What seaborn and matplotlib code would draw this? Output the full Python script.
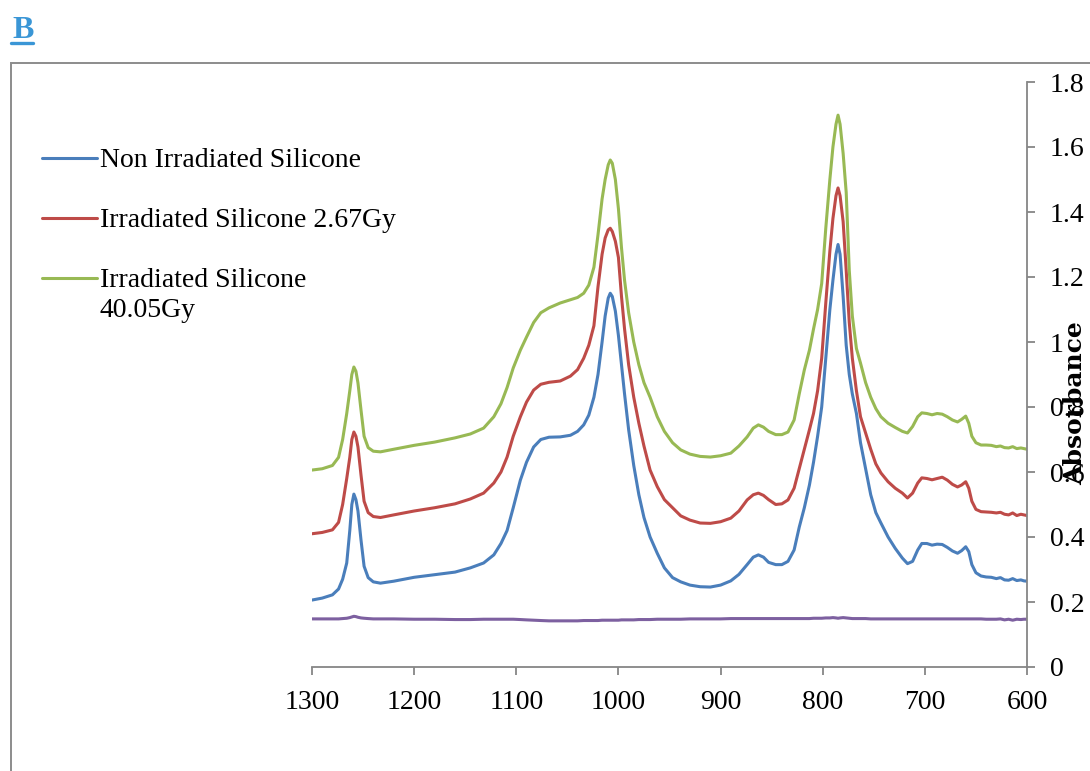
import numpy as np
import pandas as pd
import matplotlib
matplotlib.use("Agg")
import matplotlib.pyplot as plt
from matplotlib.lines import Line2D
from matplotlib.patches import Rectangle
from matplotlib.ticker import FuncFormatter
import seaborn as sns

# FTIR spectra (absorbance vs wavenumber, cm-1)
wavenumber = [
    1300, 1290, 1280, 1274, 1270, 1266, 1263, 1261, 1259, 1257, 1255, 1252, 1249, 1245,
    1240, 1233, 1220, 1200, 1180, 1160, 1145, 1132, 1122, 1115, 1109, 1103, 1096, 1090,
    1083, 1076, 1068, 1057, 1047, 1040, 1034, 1029, 1024, 1020, 1016, 1013, 1010, 1008,
    1006, 1003, 1000, 997, 994, 990, 985, 980, 975, 969, 962, 955, 947, 939, 930, 920,
    910, 900, 890, 882, 874, 868, 863, 858, 853, 846, 840, 834, 828, 823, 818, 813, 809,
    805, 801, 797, 793, 790, 787, 785, 783, 780, 777, 774, 771, 767, 763, 758, 753, 748,
    743, 736, 729, 722, 717, 712, 707, 703, 698, 693, 688, 683, 678, 673, 668, 664, 660,
    657, 654, 650, 645, 640, 635, 630, 626, 622, 618, 614, 610, 606, 603, 600,
]

non_irradiated = [
    0.206, 0.212, 0.222, 0.240, 0.270, 0.320, 0.420, 0.500, 0.532, 0.515, 0.480, 0.390, 0.310, 0.275,
    0.262, 0.258, 0.264, 0.276, 0.284, 0.292, 0.305, 0.320, 0.345, 0.380, 0.420, 0.490, 0.575, 0.630,
    0.677, 0.700, 0.707, 0.708, 0.713, 0.725, 0.745, 0.775, 0.830, 0.900, 1.000, 1.080, 1.135, 1.150,
    1.140, 1.095, 1.020, 0.930, 0.840, 0.730, 0.620, 0.530, 0.460, 0.400, 0.350, 0.305, 0.275, 0.262, 0.252, 0.247,
    0.246, 0.252, 0.265, 0.285, 0.315, 0.338, 0.345, 0.338, 0.322, 0.315, 0.315, 0.325, 0.360, 0.430, 0.490, 0.560, 0.630,
    0.710, 0.800, 0.950, 1.100, 1.190, 1.270, 1.300, 1.270, 1.140, 0.990, 0.900, 0.840, 0.780, 0.690, 0.610, 0.530, 0.475,
    0.443, 0.400, 0.365, 0.335, 0.318, 0.325, 0.360, 0.380, 0.380, 0.375, 0.378, 0.377, 0.368, 0.357, 0.350, 0.358, 0.370,
    0.355, 0.315, 0.290, 0.280, 0.277, 0.276, 0.272, 0.275, 0.268, 0.267, 0.272, 0.266, 0.268, 0.265, 0.264,
]

irradiated_267 = [
    0.410, 0.414, 0.422, 0.445, 0.500, 0.580, 0.645, 0.700, 0.723, 0.710, 0.677, 0.590, 0.510, 0.475,
    0.463, 0.460, 0.468, 0.480, 0.490, 0.502, 0.517, 0.535, 0.566, 0.600, 0.646, 0.710, 0.770, 0.815,
    0.852, 0.870, 0.876, 0.880, 0.895, 0.915, 0.950, 0.990, 1.050, 1.170, 1.270, 1.320, 1.345, 1.350,
    1.340, 1.310, 1.260, 1.140, 1.040, 0.930, 0.830, 0.750, 0.680, 0.606, 0.555, 0.515, 0.490, 0.465, 0.452, 0.443,
    0.442, 0.447, 0.458, 0.480, 0.514, 0.530, 0.535, 0.528, 0.515, 0.500, 0.502, 0.514, 0.550, 0.610, 0.670, 0.730, 0.780,
    0.850, 0.950, 1.120, 1.280, 1.380, 1.450, 1.474, 1.450, 1.370, 1.220, 1.060, 0.950, 0.850, 0.770, 0.720, 0.670, 0.625,
    0.597, 0.570, 0.550, 0.535, 0.520, 0.535, 0.566, 0.582, 0.580, 0.576, 0.580, 0.584, 0.575, 0.562, 0.554, 0.560, 0.570,
    0.550, 0.510, 0.485, 0.478, 0.477, 0.476, 0.474, 0.476, 0.470, 0.468, 0.474, 0.466, 0.470, 0.468, 0.466,
]

irradiated_4005 = [
    0.606, 0.610, 0.620, 0.645, 0.700, 0.780, 0.850, 0.900, 0.923, 0.910, 0.874, 0.790, 0.710, 0.675,
    0.664, 0.662, 0.670, 0.682, 0.692, 0.705, 0.717, 0.735, 0.770, 0.810, 0.860, 0.920, 0.975, 1.015,
    1.060, 1.090, 1.105, 1.120, 1.130, 1.137, 1.150, 1.175, 1.230, 1.330, 1.440, 1.500, 1.545, 1.560,
    1.550, 1.500, 1.410, 1.290, 1.190, 1.090, 1.000, 0.930, 0.875, 0.830, 0.770, 0.725, 0.690, 0.668, 0.655, 0.648,
    0.646, 0.650, 0.658, 0.680, 0.708, 0.735, 0.745, 0.738, 0.725, 0.715, 0.715, 0.723, 0.760, 0.840, 0.914, 0.975, 1.040,
    1.100, 1.180, 1.350, 1.500, 1.600, 1.670, 1.698, 1.670, 1.580, 1.460, 1.220, 1.080, 0.980, 0.935, 0.875, 0.830, 0.795,
    0.770, 0.750, 0.737, 0.725, 0.720, 0.740, 0.770, 0.782, 0.780, 0.776, 0.780, 0.778, 0.770, 0.760, 0.754, 0.762, 0.772,
    0.750, 0.710, 0.690, 0.683, 0.683, 0.682, 0.678, 0.680, 0.675, 0.674, 0.678, 0.672, 0.674, 0.672, 0.670,
]

background = [
    0.148, 0.148, 0.148, 0.148, 0.149, 0.150, 0.152, 0.154, 0.156, 0.155, 0.153, 0.151, 0.150, 0.149,
    0.148, 0.148, 0.148, 0.147, 0.147, 0.146, 0.146, 0.147, 0.147, 0.147, 0.147, 0.147, 0.146, 0.145,
    0.144, 0.143, 0.142, 0.142, 0.142, 0.142, 0.143, 0.143, 0.143, 0.143, 0.144, 0.144, 0.144, 0.144,
    0.144, 0.144, 0.144, 0.145, 0.145, 0.145, 0.145, 0.146, 0.146, 0.146, 0.147, 0.147, 0.147, 0.147, 0.148, 0.148,
    0.148, 0.148, 0.149, 0.149, 0.149, 0.149, 0.149, 0.149, 0.149, 0.149, 0.149, 0.149, 0.149, 0.149, 0.149, 0.149, 0.150,
    0.150, 0.150, 0.151, 0.151, 0.152, 0.151, 0.150, 0.151, 0.152, 0.151, 0.150, 0.149, 0.149, 0.149, 0.149, 0.148, 0.148,
    0.148, 0.148, 0.148, 0.148, 0.148, 0.148, 0.148, 0.148, 0.148, 0.148, 0.148, 0.148, 0.148, 0.148, 0.148, 0.148, 0.148,
    0.148, 0.148, 0.148, 0.148, 0.147, 0.147, 0.147, 0.148, 0.145, 0.147, 0.144, 0.147, 0.146, 0.147, 0.147,
]

series_names = ["Non Irradiated Silicone", "Irradiated Silicone 2.67Gy", "Irradiated Silicone\n40.05Gy"]
series_colors = ["#4A7EBB", "#BE4B48", "#98B954"]
background_color = "#7D60A0"
x_ticks = [1300, 1200, 1100, 1000, 900, 800, 700, 600]
y_ticks = [0, 0.2, 0.4, 0.6, 0.8, 1.0, 1.2, 1.4, 1.6, 1.8]

spectra = pd.DataFrame({
    "wavenumber": wavenumber * 3,
    "absorbance": non_irradiated + irradiated_267 + irradiated_4005,
    "sample": [series_names[0]] * len(wavenumber)
    + [series_names[1]] * len(wavenumber)
    + [series_names[2]] * len(wavenumber),
})
baseline = pd.DataFrame({"wavenumber": wavenumber, "absorbance": background})

sns.set_style("white")
plt.rcParams["font.family"] = ["Liberation Serif", "DejaVu Serif"]
plt.rcParams["text.color"] = "black"

W, H = 1090, 771
fig = plt.figure(figsize=(W / 100, H / 100), dpi=100)
ax = fig.add_axes([312 / W, (H - 667) / H, (1027 - 312) / W, (667 - 82) / H])

grey = "#868686"

sns.lineplot(data=baseline, x="wavenumber", y="absorbance", color=background_color,
             linewidth=2.2, sort=False, estimator=None, legend=False, ax=ax)
sns.lineplot(data=spectra, x="wavenumber", y="absorbance", hue="sample",
             hue_order=series_names, palette=series_colors, linewidth=2.2,
             sort=False, estimator=None, legend=False, ax=ax)

ax.set_xlim(1300, 600)
ax.set_ylim(0, 1.8)
ax.set_xticks(x_ticks)
ax.set_yticks(y_ticks)
ax.yaxis.set_major_formatter(FuncFormatter(lambda v, p: f"{v:g}"))
ax.yaxis.tick_right()
ax.set_xlabel("")
ax.set_ylabel("")

for side in ["left", "top"]:
    ax.spines[side].set_visible(False)
for side in ["right", "bottom"]:
    ax.spines[side].set_visible(True)
    ax.spines[side].set_color(grey)
    ax.spines[side].set_linewidth(1.3)
ax.tick_params(axis="both", which="major", direction="out", length=5.5, width=1.3,
               color=grey, labelsize=20, labelcolor="black")
ax.tick_params(axis="y", pad=11, left=False, right=True)
ax.tick_params(axis="x", pad=11, bottom=True)

# Legend: line key at the height of each label's first line
legend_rows = [158, 218, 278]
for name, color, row in zip(series_names, series_colors, legend_rows):
    fig.add_artist(Line2D([42 / W, 97 / W], [1 - row / H, 1 - row / H], color=color,
                          linewidth=2.2, transform=fig.transFigure))
    fig.text(100 / W, 1 - (row - 10) / H, name, ha="left", va="top",
             fontsize=20, color="black", linespacing=1.25)

fig.text(1075 / W, 1 - 403 / H, "Absorbance", rotation=90, ha="center", va="center",
         fontsize=18, fontweight="bold", family="DejaVu Serif")

# Panel letter with underline
fig.text(12 / W, 1 - 30 / H, "B", ha="left", va="center", fontsize=23,
         fontweight="bold", color="#3A96D6")
fig.add_artist(Line2D([11 / W, 33 / W], [1 - 43 / H, 1 - 43 / H], color="#3A96D6",
                      linewidth=2.4, transform=fig.transFigure))

# Outer chart frame
fig.add_artist(Rectangle((11 / W, -0.1), 1.2, 1 - 63 / H + 0.1, fill=False,
                         edgecolor="#8C8C8C", linewidth=1.4, transform=fig.transFigure))

fig.savefig("out.png", dpi=100)
